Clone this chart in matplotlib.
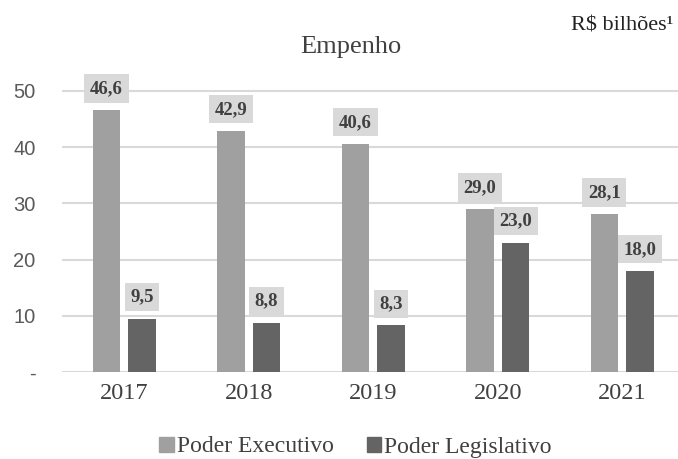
import numpy as np
import matplotlib.pyplot as plt
from matplotlib.patches import Patch

# ----------------------------
# Data (R$ bilhões)
# ----------------------------
anos = ['2017', '2018', '2019', '2020', '2021']
executivo = [46.6, 42.9, 40.6, 29.0, 28.1]
legislativo = [9.5, 8.8, 8.3, 23.0, 18.0]
yticks = [0, 10, 20, 30, 40, 50]
ytick_labels = ['-', '10', '20', '30', '40', '50']

c_exec = '#a0a0a0'
c_leg = '#646464'
c_text = '#404040'

plt.rcParams['font.family'] = 'serif'
plt.rcParams['font.serif'] = ['Liberation Serif', 'DejaVu Serif']
SERIF = 'Liberation Serif'

W, H = 678, 459
fig = plt.figure(figsize=(W / 100, H / 100), dpi=100)
# axes box in pixels: left 62, width 622.5, y=0 at 372, y=55 at ~63
ax = fig.add_axes([62 / W, 1 - 372 / H, 622.5 / W, 55 * 5.62 / H])

x = np.arange(len(anos))
w = 0.218
off = 0.143
b1 = ax.bar(x - off, executivo, w, color=c_exec, zorder=3)
b2 = ax.bar(x + off, legislativo, w, color=c_leg, zorder=3)

# value labels in grey boxes
for bars, vals in ((b1, executivo), (b2, legislativo)):
    for rect, v in zip(bars, vals):
        ax.annotate(f'{v:.1f}'.replace('.', ','),
                    (rect.get_x() + rect.get_width() / 2, v),
                    xytext=(0, 15.5), textcoords='offset points',
                    ha='center', va='center', family=SERIF,
                    fontsize=13.5, fontweight='bold',
                    color=c_text, zorder=4,
                    bbox=dict(boxstyle='square,pad=0.3', fc='#d9d9d9', ec='none'))

ax.set_xlim(-0.5, 4.5)
ax.set_ylim(0, 55)
ax.set_yticks(yticks)
ax.set_yticklabels(ytick_labels, family='Liberation Sans', fontsize=14.5, color='#595959')
ax.set_xticks(x)
ax.set_xticklabels(anos, family=SERIF, fontsize=17.5, color=c_text)
ax.tick_params(length=0)
ax.tick_params(axis='y', pad=19)
ax.tick_params(axis='x', pad=8)
for s in ax.spines.values():
    s.set_visible(False)
ax.grid(axis='y', color='#d9d9d9', linewidth=1.5, zorder=0)

fig.text(351 / W, 1 - 53 / H, 'Empenho', ha='center', va='baseline',
         family=SERIF, fontsize=19, color=c_text)
fig.text(673 / W, 1 - 31 / H, 'R$ bilhões¹', ha='right', va='baseline',
         family=SERIF, fontsize=16, color='#222222')

handles = [Patch(color=c_exec, label='Poder Executivo'),
           Patch(color=c_leg, label='Poder Legislativo')]
fig.legend(handles=handles, loc='center', bbox_to_anchor=(355.5 / W, 1 - 447 / H),
           ncol=2, frameon=False, prop={'family': SERIF, 'size': 17},
           handlelength=0.62, handleheight=0.62,
           handletextpad=0.13, columnspacing=1.4, labelcolor=c_text,
           borderpad=0, borderaxespad=0)

fig.savefig('out.png', dpi=100)
